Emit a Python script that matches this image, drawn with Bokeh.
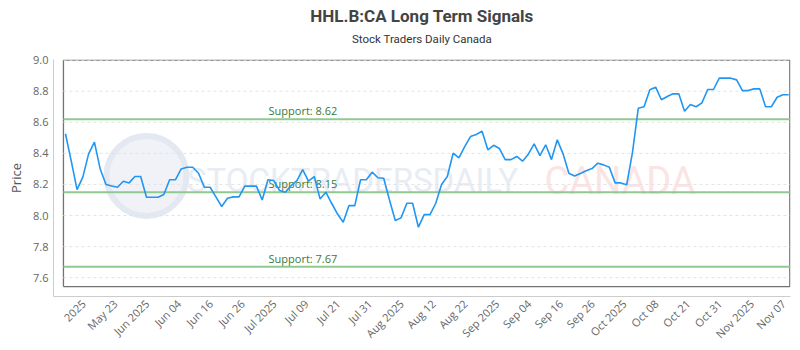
import numpy as np
from bokeh.plotting import figure
from bokeh.models import FixedTicker, PrintfTickFormatter, Title, Range1d
from bokeh.core.properties import value
from bokeh.embed import file_html
from bokeh.resources import INLINE

# ---- data ----
prices = [
    8.526, 8.35, 8.167, 8.247, 8.397, 8.472, 8.30, 8.20, 8.19, 8.182,
    8.221, 8.21, 8.251, 8.251, 8.118, 8.118, 8.118, 8.135, 8.23, 8.23,
    8.30, 8.311, 8.311, 8.272, 8.182, 8.182, 8.12, 8.058, 8.111, 8.12,
    8.12, 8.189, 8.189, 8.189, 8.10, 8.23, 8.225, 8.161, 8.15, 8.193,
    8.225, 8.296, 8.221, 8.251, 8.107, 8.15, 8.079, 8.011, 7.957, 8.064,
    8.064, 8.23, 8.23, 8.279, 8.243, 8.24, 8.10, 7.968, 7.985, 8.079,
    8.079, 7.925, 8.006, 8.006, 8.079, 8.20, 8.251, 8.401, 8.371, 8.444,
    8.508, 8.521, 8.543, 8.423, 8.452, 8.431, 8.36, 8.36, 8.38, 8.35,
    8.395, 8.461, 8.386, 8.455, 8.36, 8.487, 8.397, 8.272, 8.255, 8.27,
    8.288, 8.302, 8.337, 8.326, 8.311, 8.21, 8.21, 8.198, 8.407, 8.69,
    8.70, 8.81, 8.826, 8.745, 8.766, 8.783, 8.783, 8.671, 8.714, 8.70,
    8.725, 8.811, 8.811, 8.884, 8.884, 8.884, 8.873, 8.804, 8.804, 8.815,
    8.815, 8.70, 8.70, 8.761, 8.777, 8.777,
]
tick_labels = ["2025", "May 23", "Jun 2025", "Jun 04", "Jun 16", "Jun 26",
               "Jul 2025", "Jul 09", "Jul 21", "Jul 31", "Aug 2025", "Aug 12",
               "Aug 22", "Sep 2025", "Sep 04", "Sep 16", "Sep 26", "Oct 2025",
               "Oct 08", "Oct 21", "Oct 31", "Nov 2025", "Nov 07"]
support_levels = [8.62, 8.15, 7.67]
support_labels = ["Support: %.2f" % v for v in support_levels]
y_ticks = [7.6, 7.8, 8.0, 8.2, 8.4, 8.6, 8.8, 9.0]
title_text = "HHL.B:CA Long Term Signals"
subtitle_text = "Stock Traders Daily Canada"

x = list(range(len(prices)))
n = len(prices)

# ---- layout helpers ----
X_START, X_END = -2.07, (n - 1) + 0.31
Y_START, Y_END = 7.479, 9.004
INNER_LEFT = -0.35
INNER_RIGHT = X_END - 0.12
INNER_BOTTOM = 7.543
INNER_TOP = 9.0
tick_pos = [float(round(t, 3)) for t in np.linspace(3.1, n - 1.9, len(tick_labels))]

p = figure(width=800, height=350, output_backend="svg", toolbar_location=None,
           x_range=Range1d(X_START, X_END), y_range=Range1d(Y_START, Y_END),
           min_border_left=53, min_border_right=10, min_border_top=59,
           min_border_bottom=54, background_fill_color="white",
           border_fill_color="white")
p.outline_line_color = None
p.grid.visible = False

# titles
p.add_layout(Title(text=subtitle_text, align="center",
                   text_font="Roboto", text_font_size="11.5px",
                   text_font_style="normal", text_color="#333333",
                   standoff=28), "above")
p.add_layout(Title(text=title_text, align="center",
                   text_font="Roboto", text_font_size="17px",
                   text_font_style="bold", text_color="#444444",
                   standoff=-20), "above")

# inner frame box, drawn as one closed polyline
p.multi_line(xs=[[INNER_LEFT, INNER_RIGHT, INNER_RIGHT, INNER_LEFT, INNER_LEFT]],
             ys=[[INNER_BOTTOM, INNER_BOTTOM, INNER_TOP, INNER_TOP, INNER_BOTTOM]],
             line_color="#737373", line_width=1.3)

# watermark
p.scatter(x=[14.0], y=[8.255], size=80, marker="circle",
          fill_color="#f0f2f8", line_color="#e3e8f1", line_width=6)
p.text(x=[21.0], y=[8.225], text=["STOCKTRADERSDAILY"],
       text_font=value("Roboto"), text_font_size="33px",
       text_color="#e8ecf3", text_baseline="middle")
p.text(x=[82.8], y=[8.225], text=["CANADA"],
       text_font=value("Roboto"), text_font_size="38px",
       text_color="#fbe4e4", text_baseline="middle")

# grid lines
p.segment(x0=[INNER_LEFT] * len(y_ticks), y0=y_ticks,
          x1=[INNER_RIGHT] * len(y_ticks), y1=y_ticks,
          line_color="#e3e3e3", line_width=1, line_dash="3 3")

# support lines and labels
p.segment(x0=[INNER_LEFT] * 3, y0=support_levels, x1=[INNER_RIGHT] * 3,
          y1=support_levels, line_color="#90c990", line_width=2)
p.text(x=[35.1] * 3, y=support_levels, text=support_labels,
       text_font=value("Open Sans"), text_font_size="11px",
       text_color="#3a7a3a", text_baseline="bottom", y_offset=-1)

# price line
p.line(x, prices, line_color="#2196f3", line_width=1.6)

# axes
p.xaxis.ticker = FixedTicker(ticks=tick_pos)
p.xaxis.major_label_overrides = {t: l for t, l in zip(tick_pos, tick_labels)}
p.xaxis.major_label_orientation = np.pi / 4
p.yaxis.ticker = FixedTicker(ticks=y_ticks)
p.yaxis.formatter = PrintfTickFormatter(format="%.1f")
p.yaxis.axis_label = "Price"
for ax in (p.xaxis[0], p.yaxis[0]):
    ax.axis_line_color = "#cccccc"
    ax.major_tick_line_color = None
    ax.minor_tick_line_color = None
    ax.major_tick_out = 0
    ax.major_tick_in = 0
    ax.minor_tick_out = 0
    ax.minor_tick_in = 0
    ax.major_label_text_font = "Open Sans"
    ax.major_label_text_font_size = "11px"
    ax.major_label_text_color = "#666666"
p.xaxis.major_label_standoff = 5
p.yaxis.major_label_standoff = 5
p.yaxis.axis_label_text_font = "Open Sans"
p.yaxis.axis_label_text_font_size = "13px"
p.yaxis.axis_label_text_font_style = "normal"
p.yaxis.axis_label_text_color = "#555555"
p.yaxis.axis_label_standoff = 5

open("out.html", "w").write(file_html(p, INLINE))
